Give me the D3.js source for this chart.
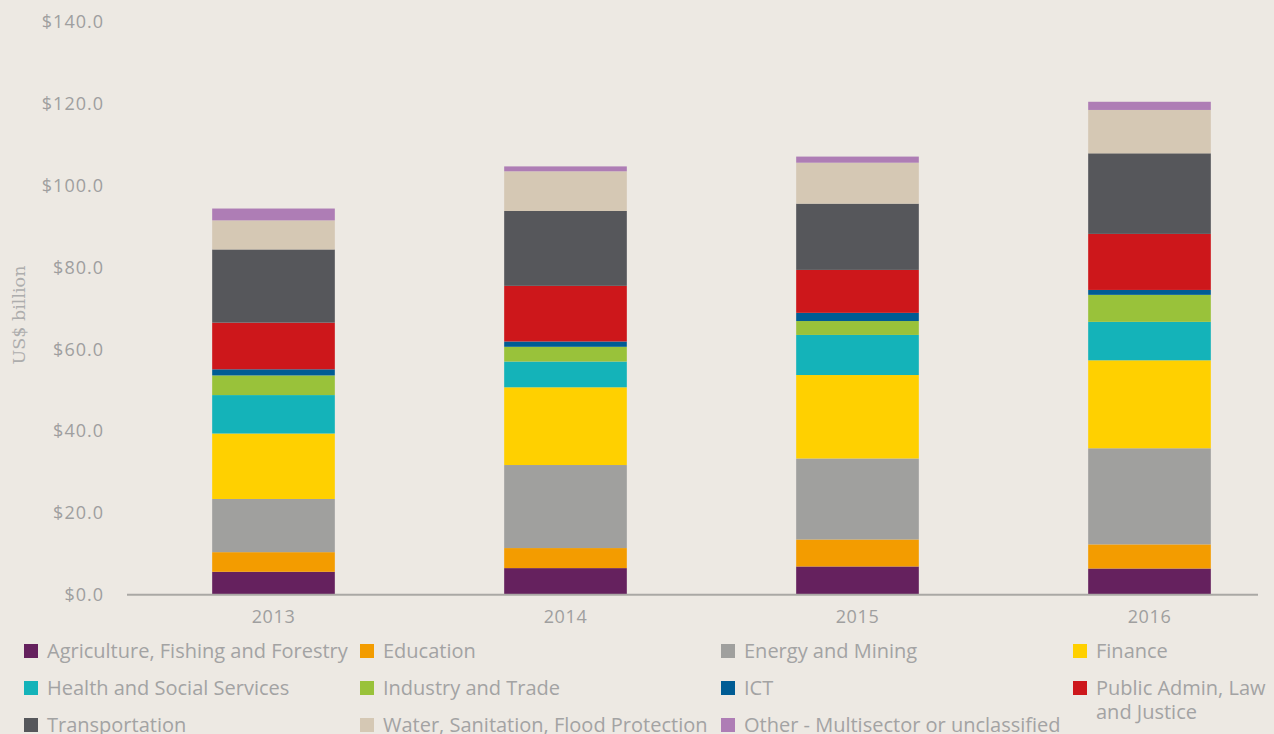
<!DOCTYPE html>
<html>
<head>
<meta charset="utf-8">
<script src="https://cdnjs.cloudflare.com/ajax/libs/d3/7.8.5/d3.min.js"></script>
<style>
  body { margin: 0; background: #ede9e3; }
  svg { display: block; }
  .tick-y { font-family: "Open Sans", sans-serif; font-size: 18px; fill: #9f9f9f; letter-spacing: 1px; }
  .tick-x { font-family: "Open Sans", sans-serif; font-size: 18px; fill: #9f9f9f; letter-spacing: 0.6px; }
  .ytitle { font-family: "DejaVu Serif", serif; font-size: 17.5px; fill: #adadad; }
  .legend text { font-family: "Open Sans", sans-serif; font-size: 20px; fill: #a3a3a3; }
</style>
</head>
<body>
<div id="chart"></div>
<script>
// years on the x axis
var years = ['2013', '2014', '2015', '2016'];

// sector values, US$ billion (one value per year)
var agriculture = [5.6, 6.5, 6.9, 6.4];
var education   = [4.8, 4.9, 6.6, 5.9];
var energy      = [13.0, 20.3, 19.8, 23.5];
var finance     = [16.0, 19.0, 20.4, 21.5];
var health      = [9.4, 6.3, 9.8, 9.4];
var industry    = [4.8, 3.6, 3.4, 6.6];
var ict         = [1.5, 1.3, 2.0, 1.2];
var publicAdmin = [11.4, 13.6, 10.5, 13.7];
var transport   = [17.9, 18.3, 16.2, 19.7];
var water       = [7.1, 9.7, 10.0, 10.6];
var other       = [2.9, 1.2, 1.5, 2.0];

var sectorNames = [
  'Agriculture, Fishing and Forestry', 'Education', 'Energy and Mining', 'Finance',
  'Health and Social Services', 'Industry and Trade', 'ICT', 'Public Admin, Law\nand Justice',
  'Transportation', 'Water, Sanitation, Flood Protection', 'Other - Multisector or unclassified'
];
var sectorValues = [agriculture, education, energy, finance, health, industry, ict,
  publicAdmin, transport, water, other];
var sectorColors = ['#65215e', '#f39c00', '#a0a09e', '#ffd000', '#14b3b9', '#99c23a',
  '#005c94', '#cd171b', '#56575b', '#d5c8b4', '#ae7db5'];

var yTicks = [0, 20, 40, 60, 80, 100, 120, 140];

var width = 1274, height = 734;

var svg = d3.select('#chart').append('svg')
    .attr('width', width)
    .attr('height', height);

svg.append('rect').attr('width', width).attr('height', height).attr('fill', '#ede9e3');

// build rows for the stack
var keys = d3.range(sectorNames.length);
var rows = years.map(function(y, i) {
  var r = { year: y };
  keys.forEach(function(k) { r[k] = sectorValues[k][i]; });
  return r;
});
var series = d3.stack().keys(keys)(rows);

var x = d3.scaleBand()
    .domain(years)
    .range([127.5, 1295.5])
    .paddingInner(0.58)
    .paddingOuter(0.29);

var y = d3.scaleLinear()
    .domain([0, 140])
    .range([594.7, 22]);

// bars
svg.append('g').selectAll('g')
    .data(series)
  .enter().append('g')
    .attr('fill', function(d) { return sectorColors[d.key]; })
  .selectAll('rect')
    .data(function(d) { return d; })
  .enter().append('rect')
    .attr('x', function(d) { return x(d.data.year); })
    .attr('y', function(d) { return y(d[1]); })
    .attr('width', x.bandwidth())
    .attr('height', function(d) { return y(d[0]) - y(d[1]); });

// x axis line
svg.append('line')
    .attr('x1', 127).attr('x2', 1258)
    .attr('y1', y(0)).attr('y2', y(0))
    .attr('stroke', '#aaa8a5')
    .attr('stroke-width', 2);

// y tick labels
svg.append('g').selectAll('text')
    .data(yTicks)
  .enter().append('text')
    .attr('class', 'tick-y')
    .attr('x', 104)
    .attr('y', function(d) { return y(d); })
    .attr('dy', '0.35em')
    .attr('text-anchor', 'end')
    .text(function(d) { return '$' + d3.format('.1f')(d); });

// x tick labels
svg.append('g').selectAll('text')
    .data(years)
  .enter().append('text')
    .attr('class', 'tick-x')
    .attr('x', function(d) { return x(d) + x.bandwidth() / 2; })
    .attr('y', 617)
    .attr('dy', '0.35em')
    .attr('text-anchor', 'middle')
    .text(function(d) { return d; });

// y axis title
svg.append('text')
    .attr('class', 'ytitle')
    .attr('transform', 'translate(25,315) rotate(-90)')
    .attr('text-anchor', 'middle')
    .text('US$ billion');

// legend, 4 columns
var legendX = [24, 360, 721, 1073];
var legendY = [651, 688, 725];

var legend = svg.append('g').attr('class', 'legend')
  .selectAll('g')
    .data(keys)
  .enter().append('g')
    .attr('transform', function(k) {
      return 'translate(' + legendX[k % 4] + ',' + legendY[Math.floor(k / 4)] + ')';
    });

legend.append('rect')
    .attr('x', 0).attr('y', -7)
    .attr('width', 14).attr('height', 14)
    .attr('fill', function(k) { return sectorColors[k]; });

legend.append('text')
    .attr('x', 23)
    .attr('y', 0)
    .selectAll('tspan')
    .data(function(k) { return sectorNames[k].split('\n'); })
  .enter().append('tspan')
    .attr('x', 23)
    .attr('dy', function(d, i) { return i === 0 ? '0.35em' : '1.2em'; })
    .text(function(d) { return d; });
</script>
</body>
</html>
